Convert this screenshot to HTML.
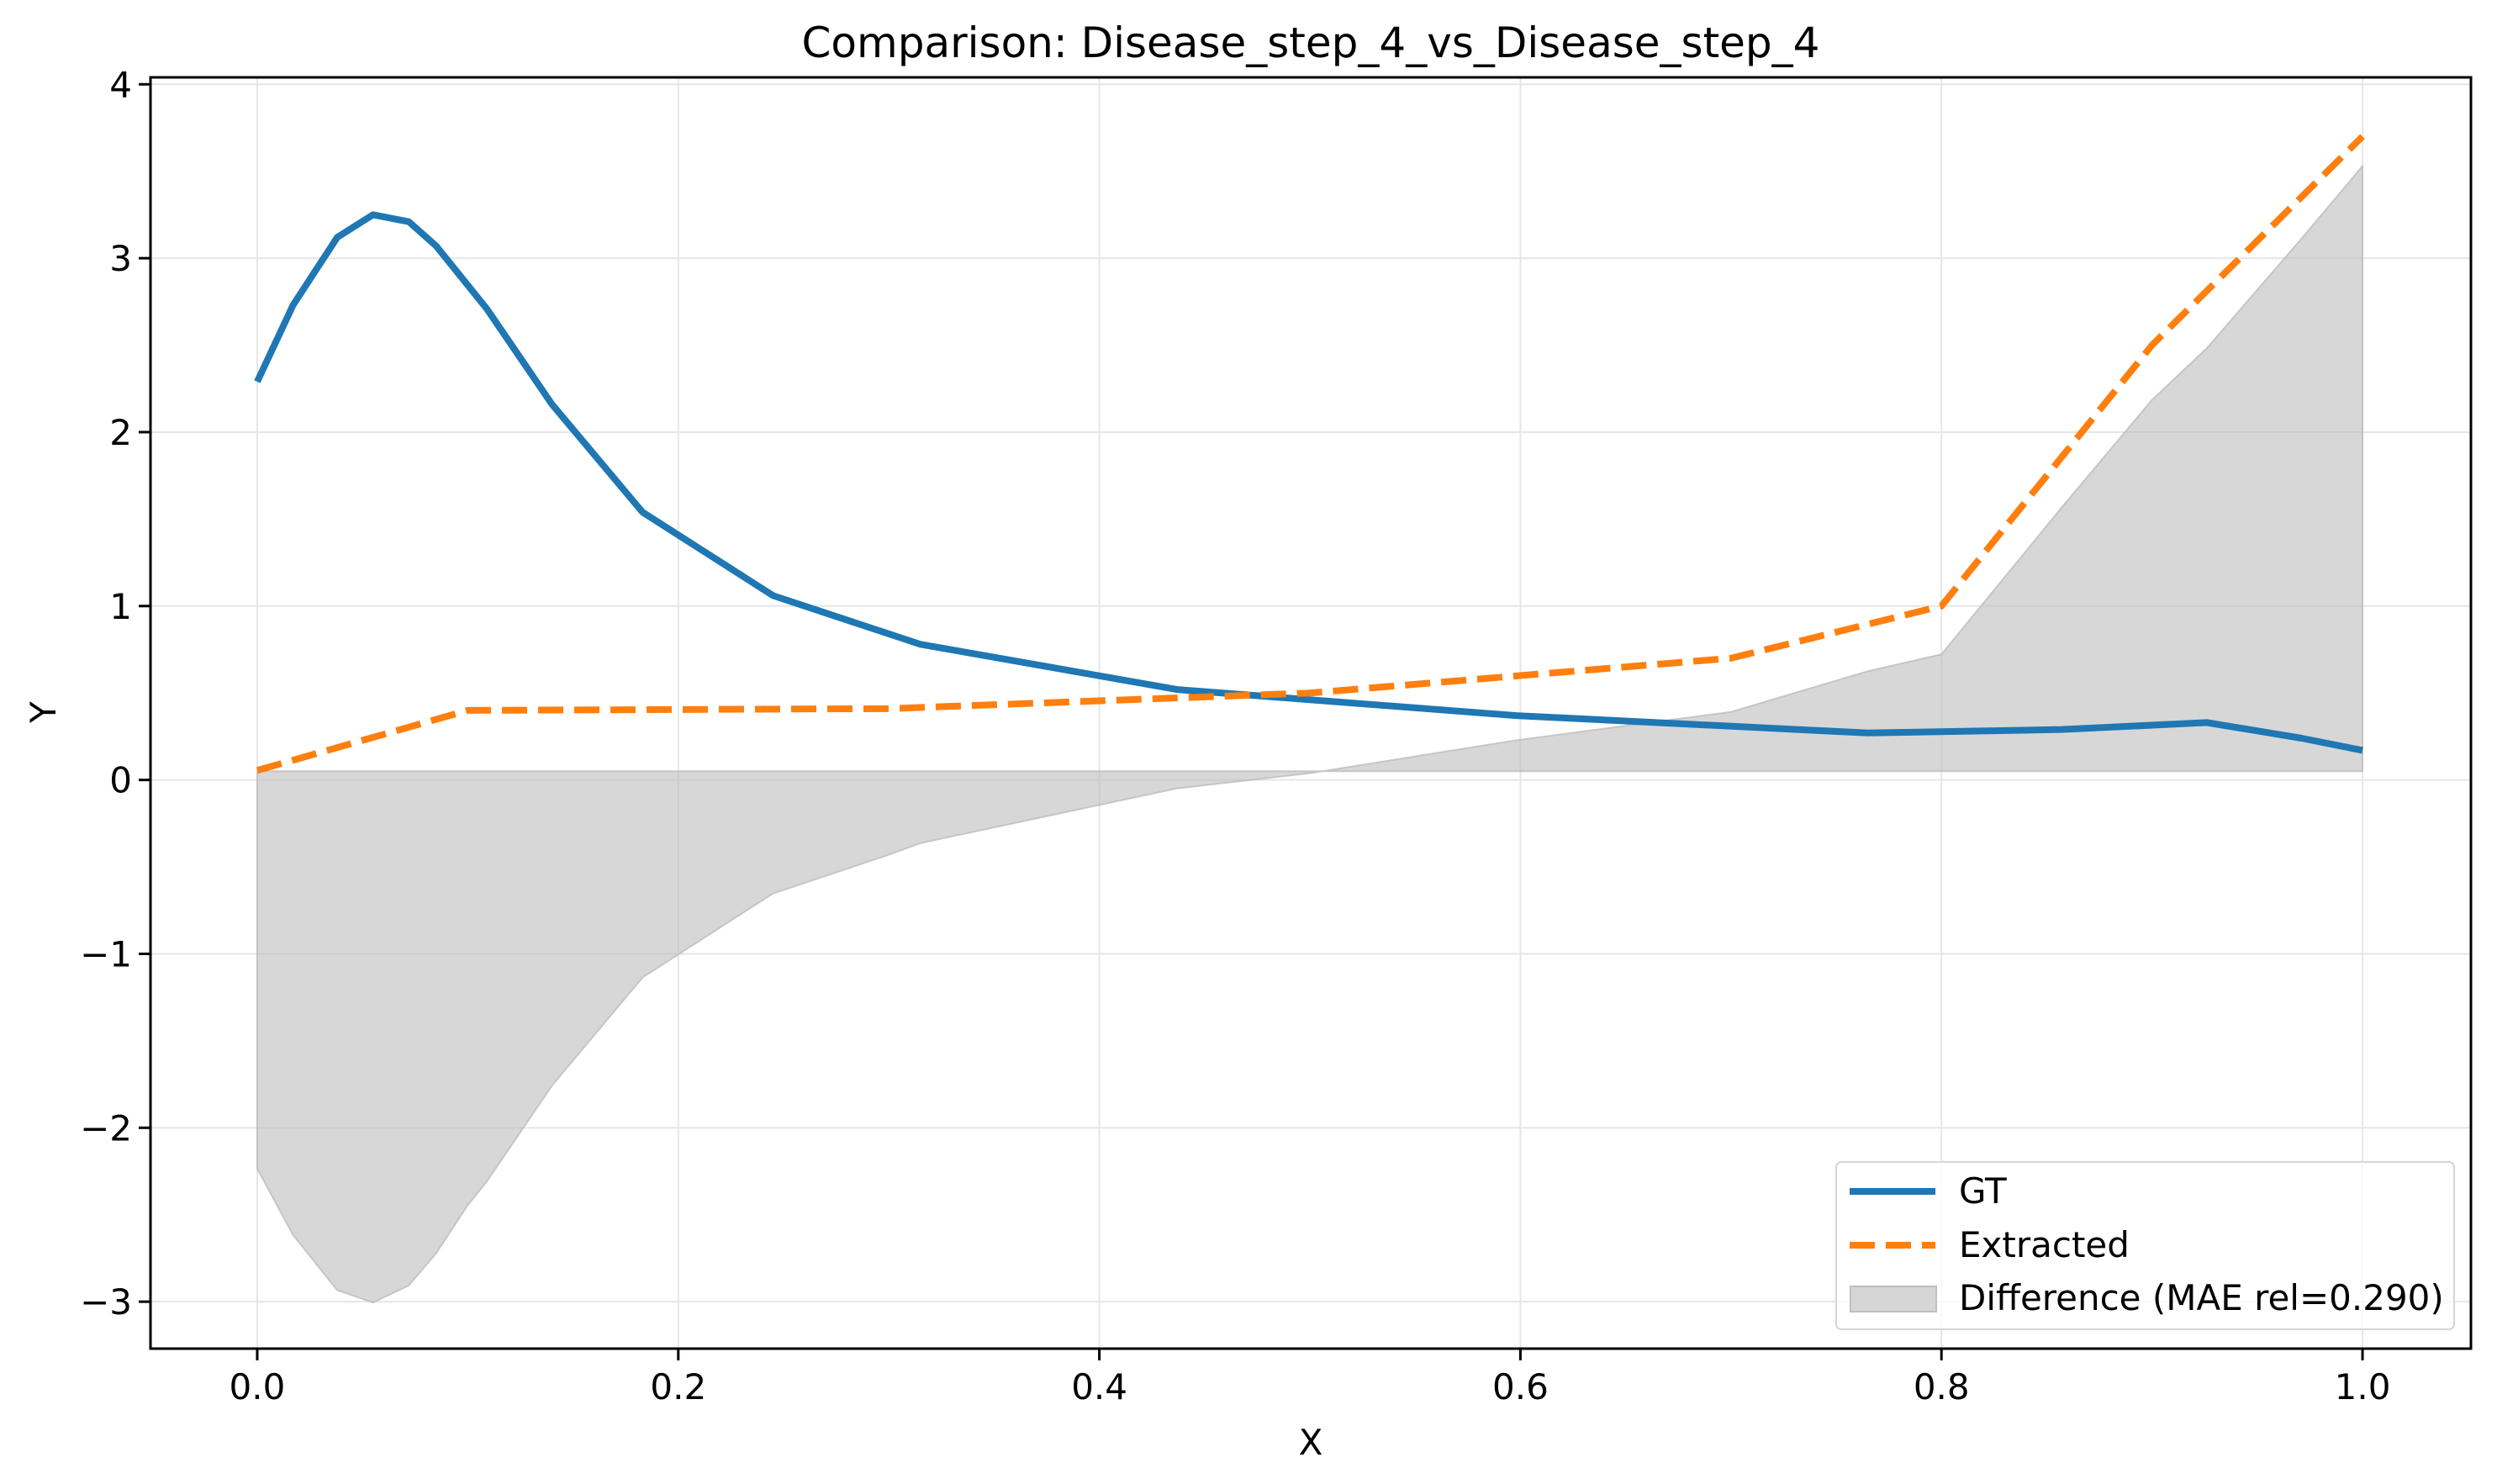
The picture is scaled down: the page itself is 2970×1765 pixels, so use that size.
<!DOCTYPE html>
<html><head><meta charset="utf-8"><style>
html,body{margin:0;padding:0;background:#fff}
svg{display:block;font-family:"DejaVu Sans","Liberation Sans",sans-serif}
</style></head><body>
<svg id="chart" width="2970" height="1765" viewBox="0 0 2970 1765" xmlns="http://www.w3.org/2000/svg">
<rect width="2970" height="1765" fill="#fff"/>
<g id="grid"></g>
<g id="fill"></g>
<g id="lines"></g>
<g id="axes"></g>
<text x="1559" y="68" font-size="50" text-anchor="middle">Comparison: Disease_step_4_vs_Disease_step_4</text>
<text x="1559" y="1730" font-size="42" text-anchor="middle">X</text>
<text x="66" y="847" font-size="42" text-anchor="middle" transform="rotate(-90 66 847)">Y</text>
<g>
<rect x="2184" y="1382" width="735" height="199" rx="6" fill="#fff" fill-opacity="0.8" stroke="#d6d6d6" stroke-width="2"/>
<line x1="2200" y1="1417" x2="2302" y2="1417" stroke="#1f77b4" stroke-width="8"/>
<text x="2330" y="1431" font-size="42">GT</text>
<line x1="2200" y1="1481" x2="2302" y2="1481" stroke="#ff7f0e" stroke-width="8" stroke-dasharray="30,13"/>
<text x="2330" y="1495" font-size="42">Extracted</text>
<rect x="2201" y="1530" width="102" height="30" fill="#d6d6d6" stroke="#bfbfbf" stroke-width="2"/>
<text x="2330" y="1558" font-size="42">Difference (MAE rel=0.290)</text>
</g>
</svg>
<script>
const gtX=[0,0.017,0.038,0.055,0.072,0.085,0.109,0.14,0.183,0.245,0.315,0.437,0.598,0.765,0.857,0.926,0.971,1.0];
const gtY=[2.29,2.73,3.12,3.25,3.21,3.07,2.71,2.16,1.54,1.06,0.78,0.52,0.37,0.27,0.29,0.33,0.24,0.17];
const exX=[0,0.1,0.3,0.5,0.6,0.7,0.8,0.9,1.0];
const exY=[0.055,0.40,0.41,0.50,0.60,0.70,1.0,2.5,3.7];
const fillBase=0.05;
const xTicks=[0,0.2,0.4,0.6,0.8,1.0];
const xTickLabels=["0.0","0.2","0.4","0.6","0.8","1.0"];
const yTicks=[-3,-2,-1,0,1,2,3,4];
const yTickLabels=["\u22123","\u22122","\u22121","0","1","2","3","4"];

const L=179,R=2939,T=92,B=1604;
const xMin=-0.0507,xMax=1.0515,yMin=-3.27,yMax=4.04;
function sx(v){return L+(v-xMin)/(xMax-xMin)*(R-L);}
function sy(v){return B-(v-yMin)/(yMax-yMin)*(B-T);}
function interp(xs,ys,x){for(let i=0;i<xs.length-1;i++){if(x>=xs[i]&&x<=xs[i+1]){const t=(x-xs[i])/(xs[i+1]-xs[i]);return ys[i]+t*(ys[i+1]-ys[i]);}}return ys[ys.length-1];}
const NS="http://www.w3.org/2000/svg";
function mk(tag,attrs,parent){const e=document.createElementNS(NS,tag);for(const k in attrs)e.setAttribute(k,attrs[k]);parent.appendChild(e);return e;}
const grid=document.getElementById('grid'),axes=document.getElementById('axes'),lines=document.getElementById('lines'),fillG=document.getElementById('fill');
xTicks.forEach((t,i)=>{
 const g=mk('line',{x1:sx(t),x2:sx(t),y1:T,y2:B,stroke:'#e6e6e6','stroke-width':2},grid);
 
 
 const tk=mk('line',{x1:sx(t),x2:sx(t),y1:B,y2:B+14,stroke:'#000','stroke-width':3},axes);
 
 
 const tx=mk('text',{x:sx(t),y:B+60,'font-size':42,'text-anchor':'middle'},axes);
 tx.textContent=xTickLabels[i];
 
 
});
yTicks.forEach((t,i)=>{
 const g=mk('line',{x1:L,x2:R,y1:sy(t),y2:sy(t),stroke:'#e6e6e6','stroke-width':2},grid);
 
 
 const tk=mk('line',{x1:L-14,x2:L,y1:sy(t),y2:sy(t),stroke:'#000','stroke-width':3},axes);
 
 
 const tx=mk('text',{x:L-22,y:sy(t)+15,'font-size':42,'text-anchor':'end'},axes);
 tx.textContent=yTickLabels[i];
 
 
});
const sp=mk('rect',{x:L,y:T,width:R-L,height:B-T,fill:'none',stroke:'#000','stroke-width':3},axes);


const ux=Array.from(new Set(gtX.concat(exX))).sort((a,b)=>a-b);
let pts=ux.map(x=>sx(x)+','+sy(interp(exX,exY,x)-interp(gtX,gtY,x)));
pts.push(sx(ux[ux.length-1])+','+sy(fillBase));
pts.push(sx(ux[0])+','+sy(fillBase));
const poly=mk('polygon',{points:pts.join(' '),fill:'#bdbdbd','fill-opacity':0.6,stroke:'#bdbdbd','stroke-opacity':0.8,'stroke-width':2,'stroke-linejoin':'round'},fillG);


const gl=mk('polyline',{points:gtX.map((x,i)=>sx(x)+','+sy(gtY[i])).join(' '),fill:'none',stroke:'#1f77b4','stroke-width':8,'stroke-linejoin':'round'},lines);


const el=mk('polyline',{points:exX.map((x,i)=>sx(x)+','+sy(exY[i])).join(' '),fill:'none',stroke:'#ff7f0e','stroke-width':8,'stroke-dasharray':'30,13'},lines);


</script>
</body></html>
